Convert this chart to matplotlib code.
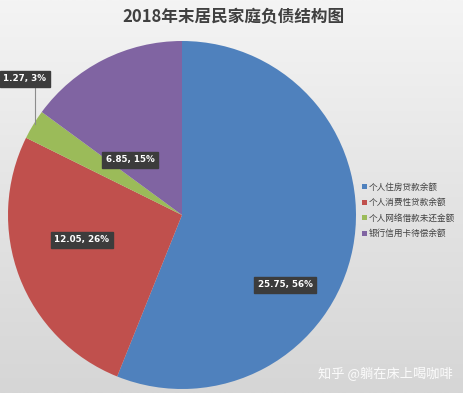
import matplotlib; matplotlib.use("Agg")
import matplotlib.pyplot as plt
import numpy as np

plt.rcParams['font.family'] = ['Noto Sans CJK SC', 'DejaVu Sans']

title = "2018年末居民家庭负债结构图"
categories = ["个人住房贷款余额", "个人消费性贷款余额", "个人网络借款未还金额", "银行信用卡待偿余额"]
values = [25.75, 12.05, 1.27, 6.85]
pcts = ["56%", "26%", "3%", "15%"]
colors = ["#4F81BD", "#C0504D", "#9BBB59", "#8064A2"]

W, H = 464, 393
fig = plt.figure(figsize=(W/100, H/100), dpi=100)

# background gradient
bg = fig.add_axes([0, 0, 1, 1]); bg.axis("off")
g = np.linspace(0, 1, 256).reshape(-1, 1)
bg.imshow(g, cmap=plt.matplotlib.colors.LinearSegmentedColormap.from_list(
    "bg", ["#f4f4f4", "#e4e4e4", "#d6d6d6"]), aspect="auto", extent=[0, 1, 0, 1])

ax = fig.add_axes([0, 0, 1, 1]); ax.axis("off")

cx, cy, r = 182, H - 215, 174
ax.pie(values, colors=colors, startangle=90, counterclock=False,
       center=(cx, cy), radius=r, frame=True,
       wedgeprops=dict(linewidth=0))
ax.axis("off")
ax.set_xlim(0, W); ax.set_ylim(0, H)

# data labels (pixel positions, y from top)
lab_pos = [(285, 285), (82, 240), (25, 79), (130, 160)]
for v, p, (lx, ly) in zip(values, pcts, lab_pos):
    ax.text(lx, H - ly, f"{v:.2f}, {p}", ha="center", va="center", fontsize=6.3,
            color="white", fontweight="bold", family="DejaVu Sans",
            bbox=dict(boxstyle="square,pad=0.45", fc="#3c3c3c", ec="#3c3c3c"))
# leader line for small slice
ax.plot([35, 35], [H - 87, H - 124], color="#8c8c8c", lw=0.8)

ax.text(233, H - 17, title, ha="center", va="center", fontsize=12,
        fontweight="bold", color="#404040")

# legend
for i, (c, name) in enumerate(zip(colors, categories)):
    y = H - 187 - i * 15.5
    ax.add_patch(plt.Rectangle((362, y - 2.5), 5, 5, color=c, lw=0))
    ax.text(369, y, name, ha="left", va="center", fontsize=6.2, color="#404040")

ax.text(385, H - 374, "知乎 @躺在床上喝咖啡", ha="center", va="center",
        fontsize=9.5, color="white", alpha=0.9)

fig.savefig("out.png", dpi=100)
